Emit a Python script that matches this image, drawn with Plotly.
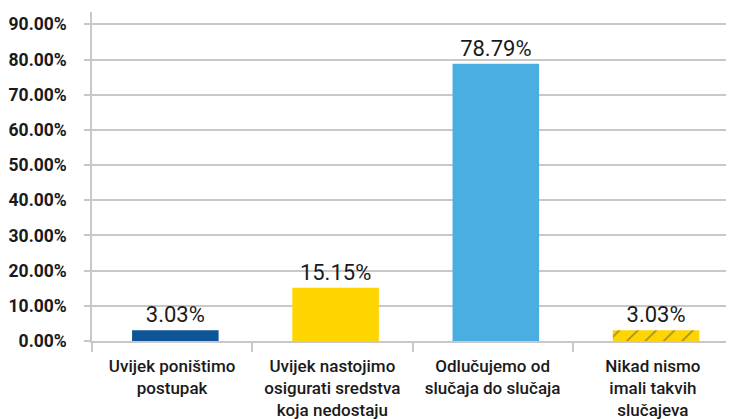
import plotly.graph_objects as go

categories = ["Uvijek poništimo<br>postupak",
              "Uvijek nastojimo<br>osigurati sredstva<br>koja nedostaju",
              "Odlučujemo od<br>slučaja do slučaja",
              "Nikad nismo<br>imali takvih<br>slučajeva"]
values = [3.03, 15.15, 78.79, 3.03]
labels = ["3.03%", "15.15%", "78.79%", "3.03%"]
tick_vals = [0, 10, 20, 30, 40, 50, 60, 70, 80, 90]
tick_text = ["0.00%", "10.00%", "20.00%", "30.00%", "40.00%", "50.00%",
             "60.00%", "70.00%", "80.00%", "90.00%"]

colors = ["#0d5596", "#ffd500", "#4aaee0", "#ffd500"]
shapes = ["", "", "", "/"]

grid = "#c8c8c8"

fig = go.Figure(go.Bar(
    x=categories, y=values, text=labels, textposition="outside",
    textfont=dict(family="Roboto", size=22, color="#1a1a1a"),
    marker=dict(color=colors, line=dict(width=0),
                pattern=dict(shape=shapes, fgcolor="#0d5596", bgcolor="#ffd500",
                             size=13, solidity=0.12, fillmode="overlay")),
    width=0.54, offset=-0.25, cliponaxis=False, hoverinfo="skip"))

# the page body has an 8px margin, so the figure is offset by 8px
fig.update_layout(
    width=726, height=411,
    margin=dict(l=84, r=1, t=4, b=78, autoexpand=False),
    paper_bgcolor="white", plot_bgcolor="white",
    showlegend=False,
    bargap=0.46,
)
fig.update_yaxes(range=[0, 93.5], tickvals=tick_vals, ticktext=tick_text,
                 showgrid=True, gridcolor=grid, gridwidth=1.5,
                 showline=True, linecolor=grid, linewidth=1.5,
                 ticks="outside", ticklen=6, tickcolor=grid, tickwidth=1.5,
                 ticklabelstandoff=14,
                 tickfont=dict(family="Roboto", size=17.5, color="#1a1a1a", weight="bold"),
                 zeroline=False, fixedrange=True, automargin=False)
fig.update_xaxes(showline=True, linecolor=grid, linewidth=1.5,
                 tickson="boundaries", ticks="outside", ticklen=9,
                 tickcolor=grid, tickwidth=1.5, ticklabelstandoff=9,
                 tickfont=dict(family="Roboto", size=17, color="#1a1a1a", weight=500),
                 fixedrange=True, automargin=False)

fig.write_html("out.html")
